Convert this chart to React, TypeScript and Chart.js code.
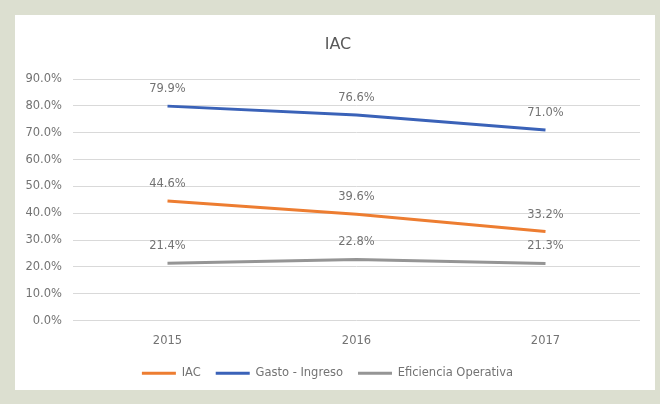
import React, { useEffect, useRef } from "react";
import { Chart, registerables } from "chart.js";

Chart.register(...registerables);

const categories = ["2015", "2016", "2017"];
const iacValues = [44.6, 39.6, 33.2];
const gastoValues = [79.9, 76.6, 71.0];
const eficienciaValues = [21.4, 22.8, 21.3];
const seriesNames = ["IAC", "Gasto - Ingreso", "Eficiencia Operativa"];
const chartTitle = "IAC";

const FONT = "'DejaVu Sans', 'Liberation Sans', sans-serif";
const TEXT = "#737373";

const labelPlugin = {
  id: "pointLabels",
  afterDatasetsDraw(chart: any) {
    const ctx = chart.ctx;
    ctx.save();
    ctx.font = `11.5px ${FONT}`;
    ctx.fillStyle = TEXT;
    ctx.textAlign = "center";
    ctx.textBaseline = "alphabetic";
    chart.data.datasets.forEach((ds: any, i: number) => {
      const meta = chart.getDatasetMeta(i);
      meta.data.forEach((pt: any, j: number) => {
        ctx.fillText(ds.data[j].toFixed(1) + "%", pt.x, pt.y - 14);
      });
    });
    ctx.restore();
  },
};

const titlePlugin = {
  id: "centeredTitle",
  afterDraw(chart: any) {
    const ctx = chart.ctx;
    ctx.save();
    ctx.font = `16px ${FONT}`;
    ctx.fillStyle = "#595959";
    ctx.textAlign = "center";
    ctx.textBaseline = "middle";
    ctx.fillText(chartTitle, (chart.width + 6) / 2, 30);
    ctx.restore();
  },
};

export default function App() {
  const ref = useRef<HTMLCanvasElement>(null);
  useEffect(() => {
    const chart = new Chart(ref.current!, {
      type: "line",
      data: {
        labels: categories,
        datasets: [
          { label: seriesNames[0], data: iacValues, borderColor: "#ED7D31", backgroundColor: "#ED7D31", borderWidth: 3, pointRadius: 0 },
          { label: seriesNames[1], data: gastoValues, borderColor: "#3A62B8", backgroundColor: "#3A62B8", borderWidth: 3, pointRadius: 0 },
          { label: seriesNames[2], data: eficienciaValues, borderColor: "#959595", backgroundColor: "#959595", borderWidth: 3, pointRadius: 0 },
        ],
      },
      options: {
        animation: false,
        responsive: false,
        maintainAspectRatio: false,
        layout: { padding: { left: 0, right: 15, top: 64, bottom: 1 } },
        plugins: {
          title: { display: false },
          legend: {
            position: "bottom",
            labels: {
              color: TEXT,
              font: { family: FONT, size: 11.5 },
              usePointStyle: true,
              pointStyle: "line",
              pointStyleWidth: 34,
              boxHeight: 8,
              padding: 15,
            },
          },
          tooltip: { enabled: false },
        },
        scales: {
          x: {
            offset: true,
            grid: { display: false },
            border: { display: false },
            ticks: { color: TEXT, font: { family: FONT, size: 11.5 }, padding: 5 },
          },
          y: {
            min: 0,
            max: 90,
            afterFit: (s: any) => { s.width = 58; },
            ticks: {
              stepSize: 10,
              color: TEXT,
              font: { family: FONT, size: 11.5 },
              padding: 11,
              callback: (v: any) => Number(v).toFixed(1) + "%",
            },
            grid: { color: "#d9d9d9", drawTicks: false },
            border: { display: false },
          },
        },
      },
      plugins: [labelPlugin, titlePlugin],
    } as any);
    return () => chart.destroy();
  }, []);
  return (
    <div style={{ position: "fixed", left: 0, top: 0, width: 660, height: 404, background: "#dcdfd0" }}>
      <div style={{ position: "absolute", left: 15, top: 15, width: 640, height: 375, background: "#ffffff" }}>
        <canvas ref={ref} width={640} height={375} style={{ display: "block" }} />
      </div>
    </div>
  );
}
